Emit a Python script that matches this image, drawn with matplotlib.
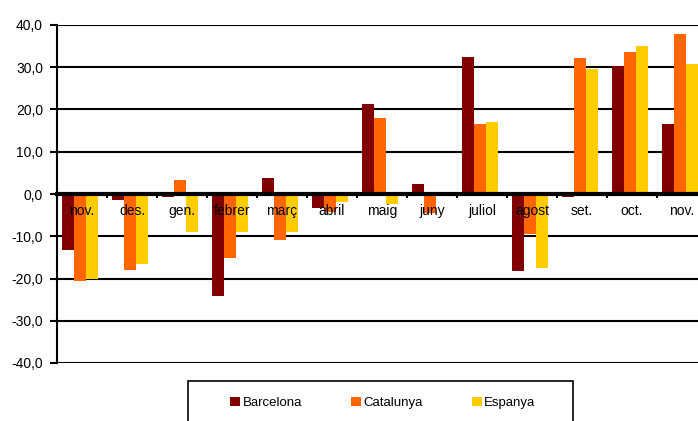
import matplotlib
matplotlib.use("Agg")
import matplotlib.pyplot as plt
import numpy as np
from matplotlib.patches import Rectangle

plt.rcParams["font.family"] = ["Liberation Sans", "DejaVu Sans"]

months = ["nov.", "des.", "gen.", "febrer", "març", "abril", "maig",
          "juny", "juliol", "agost", "set.", "oct.", "nov."]
barcelona = [-13.3, -1.4, -0.8, -24.1, 3.7, -3.2, 21.2, 2.3, 32.5, -18.2, -0.7, 30.3, 16.5]
catalunya = [-20.7, -18.0, 3.3, -15.1, -10.9, -4.2, 17.9, -4.6, 16.5, -9.5, 32.1, 33.5, 37.8]
espanya = [-20.0, -16.6, -8.9, -9.0, -9.0, -1.8, -2.4, 0.0, 17.0, -17.4, 29.7, 35.0, 30.7]
series = [("Barcelona", barcelona, "#800000"),
          ("Catalunya", catalunya, "#FF6600"),
          ("Espanya", espanya, "#FFCC00")]
yticks = [-40, -30, -20, -10, 0, 10, 20, 30, 40]

W, H = 698, 421
fig = plt.figure(figsize=(W/100, H/100), dpi=100)
# axes runs past the right edge like the original (last group is cut)
ax = fig.add_axes([57/W, 1-363/H, 650/W, 338/H])

x = np.arange(len(months))
bw = 0.24
for i, (name, vals, col) in enumerate(series):
    ax.bar(x + (i-1)*bw - 0.04, vals, bw, color=col, label=name, zorder=1)

for v in yticks:
    if v != 0:
        ax.axhline(v, color="black", lw=1.5, zorder=0.5)

ax.set_xlim(-0.5, len(months)-0.5)
ax.set_ylim(-40, 40)
ax.set_axisbelow(False)

for s in ["top", "right"]:
    ax.spines[s].set_visible(False)
ax.spines["left"].set_linewidth(1.5)
ax.spines["bottom"].set_position(("data", 0))
ax.spines["bottom"].set_linewidth(3)

ax.set_yticks(yticks)
ax.set_yticklabels([f"{v:.1f}".replace(".", ",") for v in yticks], fontsize=10)
ax.tick_params(axis="y", length=5, width=1.5, pad=5)

ax.set_xticks(x)
ax.set_xticklabels(months, fontsize=10)
ax.set_xticks(np.arange(-0.5, len(months)), minor=True)
ax.tick_params(axis="x", which="major", length=0, pad=7)
ax.tick_params(axis="x", which="minor", length=3, width=1.5, direction="out")

# legend box, bottom runs off the figure
fig.patches.append(Rectangle((188/W, 1-425/H), 385/W, 44/H, transform=fig.transFigure,
                             fill=False, edgecolor="black", lw=1.2))
fig.legend(loc="center", bbox_to_anchor=(383/W, 1-403/H), ncol=3, frameon=False,
           fontsize=9.5, handlelength=0.75, handleheight=0.75, handletextpad=0.2,
           columnspacing=3.7)

fig.savefig("out.png", dpi=100)
